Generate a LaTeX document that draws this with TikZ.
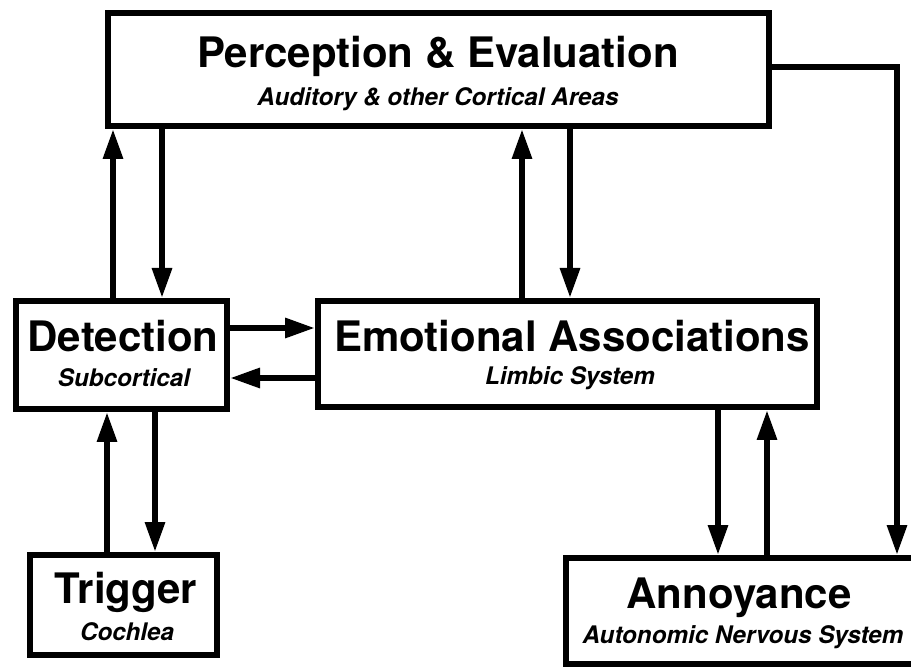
\documentclass[tikz,border=0pt]{standalone}
\usepackage{fontspec}
\setmainfont{TeX Gyre Heros}
\usetikzlibrary{arrows.meta}
\begin{document}
\begin{tikzpicture}[x=1pt,y=-1pt,
  box/.style={draw, line width=6pt, inner sep=0pt, rectangle},
  arr/.style={line width=6pt, line join=miter, -{Triangle[length=30pt,width=19pt]}},
  ttl/.style={anchor=base, inner sep=0pt, font=\fontsize{42}{48}\selectfont\bfseries},
  sub/.style={anchor=base, inner sep=0pt, font=\fontsize{24.2}{28}\selectfont\bfseries\itshape}]
\useasboundingbox (0,0) rectangle (911,668);
% boxes
\node[box, minimum width=661pt, minimum height=113pt] (p) at (438.5,69.5) {};
\node[box, minimum width=211pt, minimum height=108pt] (d) at (121.5,355) {};
\node[box, minimum width=499pt, minimum height=106pt] (e) at (567.5,354) {};
\node[box, minimum width=187pt, minimum height=100pt] (t) at (123.5,605) {};
\node[box, minimum width=351pt, minimum height=106pt] (a) at (741.5,611) {};
% texts
\node[ttl] (pt) at (438,68) {Perception \& Evaluation};
\node[sub] (ps) at (438,106) {Auditory \& other Cortical Areas};
\node[ttl] (dt) at (123,352) {Detection};
\node[sub] (ds) at (124,387) {Subcortical};
\node[ttl] (et) at (572,352) {Emotional Associations};
\node[sub] (es) at (570,385) {Limbic System};
\node[ttl] (tt) at (126,603) {Trigger};
\node[sub] (ts) at (127,640) {Cochlea};
\node[ttl] (at) at (739,608) {Annoyance};
\node[sub] (as) at (743,643) {Autonomic Nervous System};
% connector x / y positions
\coordinate (x1) at (113,0);
\coordinate (x2) at (162,0);
\coordinate (x3) at (522,0);
\coordinate (x4) at (570,0);
\coordinate (x5) at (107,0);
\coordinate (x6) at (155,0);
\coordinate (x7) at (718,0);
\coordinate (x8) at (767,0);
\coordinate (x9) at (897,0);
\coordinate (y1) at (0,328);
\coordinate (y2) at (0,378);
\coordinate (y3) at (0,67);
% connectors
\draw[arr] (d.north -| x1) -- (p.south -| x1);
\draw[arr] (p.south -| x2) -- (d.north -| x2);
\draw[arr] (e.north -| x3) -- (p.south -| x3);
\draw[arr] (p.south -| x4) -- (e.north -| x4);
\draw[arr] (d.east |- y1) -- (e.west |- y1);
\draw[arr] (e.west |- y2) -- (d.east |- y2);
\draw[arr] (t.north -| x5) -- (d.south -| x5);
\draw[arr] (d.south -| x6) -- (t.north -| x6);
\draw[arr] (e.south -| x7) -- (a.north -| x7);
\draw[arr] (a.north -| x8) -- (e.south -| x8);
\draw[arr] (p.east |- y3) -| (a.north -| x9);
\end{tikzpicture}
\end{document}
